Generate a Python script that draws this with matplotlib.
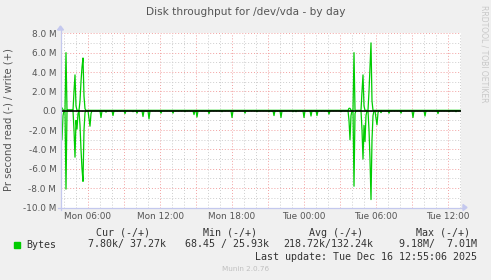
import numpy as np
import matplotlib
matplotlib.use("Agg")
import matplotlib.pyplot as plt

# minutes since Mon 00:00, values in MB/s
read_minutes = [225, 230, 235, 250, 290, 295, 300, 305, 310, 320, 325, 330, 335, 340, 345,
                365, 370, 375, 425, 450, 485, 545, 585, 605, 635, 665, 725, 785, 845, 890,
                905, 965, 1030, 1080, 1145, 1205, 1265, 1290, 1325, 1385, 1400, 1440, 1475,
                1505, 1565, 1625, 1665, 1670, 1675, 1690, 1695, 1730, 1735, 1740, 1745, 1750,
                1765, 1770, 1775, 1780, 1785, 1800, 1805, 1810, 1825, 1865, 1925, 1985, 2045,
                2110, 2165, 2200]
read_mb = [1.0, 3.0, 0.5, 8.1, 2.0, 4.8, 1.0, 1.9, 0.3, 1.5, 4.0, 6.0, 7.3, 2.0, 0.2,
           0.8, 1.6, 0.3, 0.7, 0.15, 0.5, 0.3, 0.1, 0.25, 0.6, 0.85, 0.25, 0.25, 0.1, 0.4,
           0.65, 0.3, 0.1, 0.7, 0.25, 0.1, 0.1, 0.5, 0.7, 0.1, 0.1, 0.7, 0.55,
           0.5, 0.35, 0.1, 1.0, 3.0, 0.5, 7.8, 0.3, 2.0, 5.0, 1.5, 3.2, 0.5,
           2.0, 5.0, 9.18, 3.0, 0.5, 0.8, 1.45, 0.2, 0.2, 0.25, 0.25, 0.7, 0.55,
           0.3, 0.1, 0.1]

write_minutes = [225, 230, 235, 250, 260, 270, 280, 290, 295, 300, 320, 325, 330, 335, 340,
                 345, 1665, 1670, 1690, 1730, 1735, 1740, 1765, 1770, 1775, 1780]
write_mb = [0.25, 0.3, 0.1, 6.0, 0.12, 0.12, 0.12, 2.0, 3.7, 0.5, 1.0, 3.0, 4.5, 5.45, 1.5,
            0.2, 0.25, 0.25, 6.0, 2.0, 3.7, 0.5, 2.0, 4.5, 7.01, 1.0]

hour_labels = ["Mon 06:00", "Mon 12:00", "Mon 18:00", "Tue 00:00", "Tue 06:00", "Tue 12:00"]
label_minutes = [360, 720, 1080, 1440, 1800, 2160]

# 5 minute samples, one per pixel column
samples = np.arange(225, 2225, 5)
read = np.zeros(len(samples))
write = np.full(len(samples), 0.04)
for m, v in zip(read_minutes, read_mb):
    read[(m - 225) // 5] = -v
for m, v in zip(write_minutes, write_mb):
    write[(m - 225) // 5] = v

BG = "#F0F0F0"
AXIS = "#C4C8EE"
TXT = "#555555"

fig = plt.figure(figsize=(4.91, 2.80), dpi=100, facecolor=BG)
W, H = 491.0, 280.0
ax = fig.add_axes([60.5 / W, 1 - 207.5 / H, 400 / W, (207.5 - 33.3) / H])
ax.set_facecolor("white")
ax.set_xlim(222.5, 2222.5)
ax.set_ylim(-10, 8)

# grid
for m in range(240, 2222, 60):
    major = m % 180 == 0
    ax.axvline(m, color="#F2A0A0" if major else "#CDCDCD", lw=0.7,
               dashes=(1, 2), zorder=1)
for y in range(-9, 9):
    major = y % 2 == 0
    ax.axhline(y, color="#F2A0A0" if major else "#CDCDCD", lw=0.7,
               dashes=(1, 2), zorder=1)

ax.plot(samples, read, color="#00CC00", lw=0.9, zorder=3)
ax.plot(samples, write, color="#00CC00", lw=0.9, zorder=3)
ax.axhline(0, color="black", lw=1.2, zorder=4)

for s in ax.spines.values():
    s.set_visible(False)
ax.set_xticks(label_minutes)
ax.set_xticklabels(hour_labels)
yt = list(range(-10, 9, 2))
ax.set_yticks(yt)
ax.set_yticklabels(["0.0" if v == 0 else "%.1f M" % v for v in yt])
ax.tick_params(length=0, labelsize=6.4, colors=TXT, pad=3)

# axes with arrows
fig.add_artist(plt.Line2D([60.5 / W, 60.5 / W], [1 - 210 / H, 1 - 29 / H], color=AXIS, lw=0.9))
fig.add_artist(plt.Line2D([58 / W, 464 / W], [1 - 207.5 / H, 1 - 207.5 / H], color=AXIS, lw=0.9))
fig.add_artist(plt.Polygon([[57.5 / W, 1 - 30 / H], [63.5 / W, 1 - 30 / H], [60.5 / W, 1 - 26 / H]],
                           closed=True, color=AXIS))
fig.add_artist(plt.Polygon([[463 / W, 1 - 204.5 / H], [463 / W, 1 - 210.5 / H], [467 / W, 1 - 207.5 / H]],
                           closed=True, color=AXIS))

fig.text(245.5 / W, 1 - 12 / H, "Disk throughput for /dev/vda - by day", ha="center",
         va="center", fontsize=7.6, color=TXT)
fig.text(9 / W, 1 - 120 / H, "Pr second read (-) / write (+)", rotation=90, ha="center",
         va="center", fontsize=7.2, color=TXT)
fig.text(484 / W, 1 - 5 / H, "RRDTOOL / TOBI OETIKER", rotation=270, ha="center",
         va="top", fontsize=5.5, color="#C8C8C8")

mono = dict(family="DejaVu Sans Mono", fontsize=7.2, color="#333333", va="center")
fig.add_artist(plt.Rectangle((14 / W, 1 - 247.5 / H), 6 / W, 6 / H, color="#00CC00"))
fig.text(26 / W, 1 - 244.5 / H, "Bytes", ha="left", **mono)
heads = ["Cur (-/+)", "Min (-/+)", "Avg (-/+)", "Max (-/+)"]
vals = ["7.80k/ 37.27k", "68.45 / 25.93k", "218.72k/132.24k", "9.18M/  7.01M"]
head_right = [150, 257, 363, 470]
val_right = [166, 269, 373, 477]
for h, hx in zip(heads, head_right):
    fig.text(hx / W, 1 - 232.5 / H, h, ha="right", **mono)
for v, vx in zip(vals, val_right):
    fig.text(vx / W, 1 - 244.5 / H, v, ha="right", **mono)
fig.text(477 / W, 1 - 256.5 / H, "Last update: Tue Dec 16 12:55:06 2025", ha="right", **mono)
fig.text(245.5 / W, 1 - 269 / H, "Munin 2.0.76", ha="center", va="center",
         fontsize=5.2, color="#C0C0C0")

fig.savefig("out.png", dpi=100, facecolor=BG)
